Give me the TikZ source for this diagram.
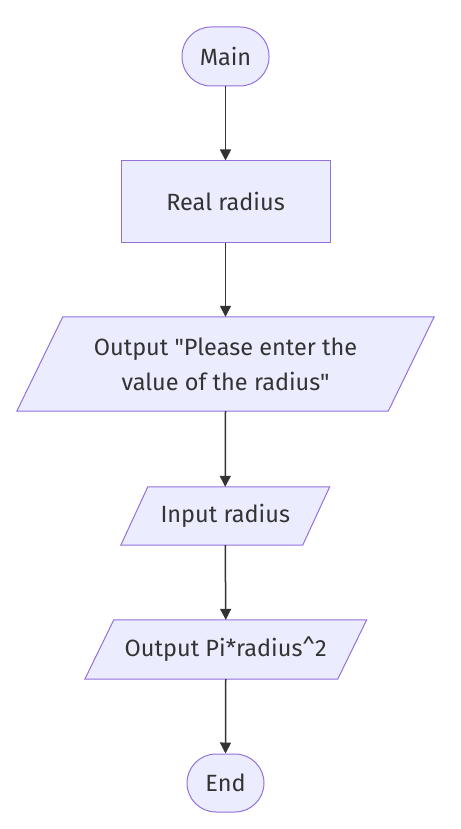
\documentclass[tikz,border=0pt]{standalone}
\usepackage{fontspec}
\setmainfont{Fira Sans}[Ligatures=TeXOff]
\usetikzlibrary{arrows.meta,backgrounds}
\definecolor{nodefill}{HTML}{ECECFF}
\definecolor{nodeline}{HTML}{9370DB}
\definecolor{edgecol}{HTML}{333333}
\definecolor{txt}{HTML}{333333}
\begin{document}
\begin{tikzpicture}[x=1pt,y=-1pt,
  base/.style={font=\fontsize{23.5}{35}\selectfont, text=txt, inner sep=0pt},
  term/.style={base, draw=nodeline, fill=nodefill, line width=1pt, rounded corners=29pt},
  proc/.style={base, draw=nodeline, fill=nodefill, line width=1pt},
  io/.style={base, align=center},
  iobox/.style={draw=nodeline, fill=nodefill, line width=1pt},
  edge/.style={draw=edgecol, line width=1.5pt, -{Triangle[length=11pt,width=11pt]}}]
\useasboundingbox (0,0) rectangle (460,829);
\node[term, minimum width=87pt, minimum height=59pt] (main) at (225.5,56.5) {Main};
\node[proc, minimum width=209pt, minimum height=81pt] (real) at (225.5,201.5) {Real radius};
\node[io, minimum width=371pt, minimum height=94pt] (out1) at (225.5,364) {Output \symbol{34}Please enter the\\value of the radius\symbol{34}};
\node[io, minimum width=181.5pt, minimum height=58pt] (inp) at (225.25,516) {Input radius};
\node[io, minimum width=252.5pt, minimum height=59pt] (out2) at (225.75,649.5) {Output Pi*radius\textasciicircum 2};
\node[term, minimum width=77pt, minimum height=58pt] (fin) at (225.5,783) {End};
\begin{scope}[on background layer]
\path[iobox] ([xshift=23pt]out1.north west) -- ([xshift=23pt]out1.north east) -- ([xshift=-23pt]out1.south east) -- ([xshift=-23pt]out1.south west) -- cycle;
\path[iobox] ([xshift=13.5pt]inp.north west) -- ([xshift=13.5pt]inp.north east) -- ([xshift=-13.5pt]inp.south east) -- ([xshift=-13.5pt]inp.south west) -- cycle;
\path[iobox] ([xshift=14.5pt]out2.north west) -- ([xshift=14.5pt]out2.north east) -- ([xshift=-14.5pt]out2.south east) -- ([xshift=-14.5pt]out2.south west) -- cycle;
\end{scope}
\draw[edge] (main.south) -- (real.north);
\draw[edge] (real.south) -- (out1.north);
\draw[edge] (out1.south) -- (inp.north);
\draw[edge] (inp.south) -- (out2.north);
\draw[edge] (out2.south) -- (fin.north);
\end{tikzpicture}
\end{document}
